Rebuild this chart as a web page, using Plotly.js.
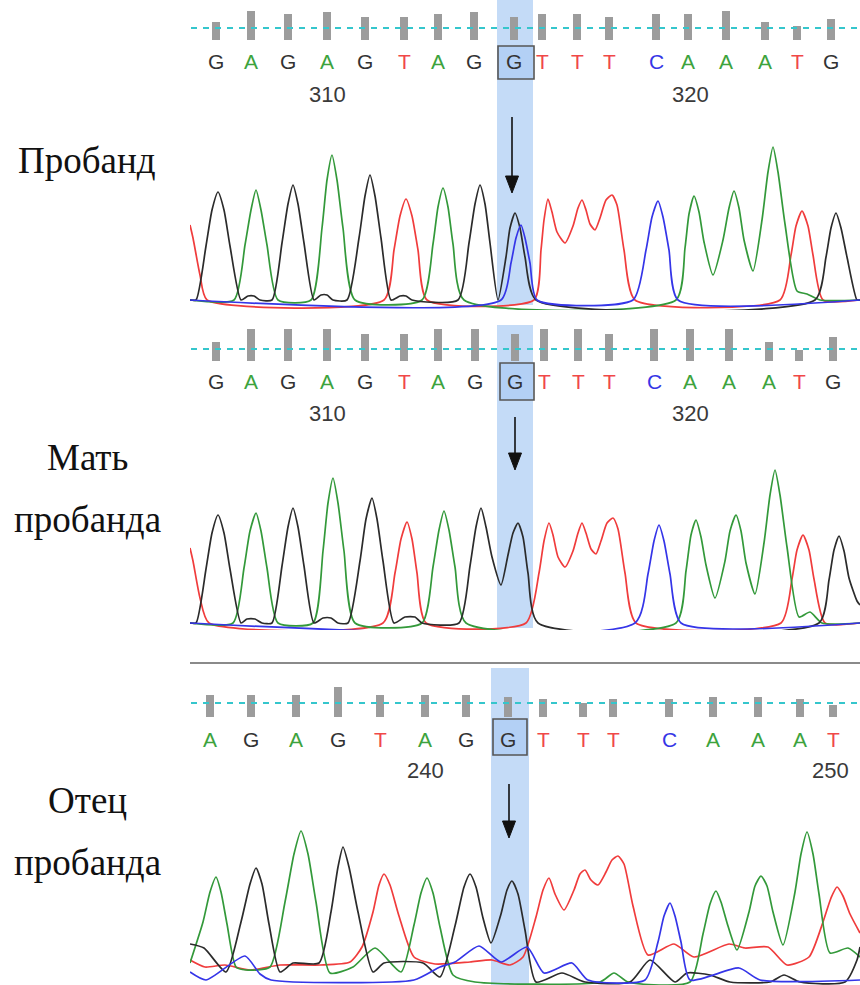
<!DOCTYPE html>
<html><head><meta charset="utf-8">
<script src="https://cdn.plot.ly/plotly-3.0.1.min.js"></script>
<style>html,body{margin:0;padding:0;background:#fff}#chart{width:860px;height:985px}</style>
</head><body><div id="chart"></div>
<script>
// ---------- DATA: trace vertices [scan index, signal amplitude] ----------
// Panel 1 – Пробанд
const p1_T = [[0,75],[3,62],[10,25],[17,0],[194,0],[204,50],[210,84],[216,101],[222,84],[228,50],[237,0],[344,0],[351,50],[354,80],[358,101],[362,88],[367,68],[375,57],[383,74],[388,92],[392,100],[396,90],[400,76],[405,70],[410,82],[416,100],[422,105],[427,95],[434,50],[445,0],[590,0],[601,45],[606,74],[612,89],[618,74],[623,45],[633,0],[670,0]];
const p1_A = [[0,0],[44,0],[55,55],[61,90],[66,110],[71,90],[77,55],[88,0],[121,0],[132,72],[137,120],[142,145],[147,120],[153,72],[165,0],[232,0],[243,56],[248,93],[253,112],[258,93],[263,56],[274,0],[486,0],[495,52],[499,86],[504,104],[509,88],[514,58],[523,25],[533,60],[539,92],[544,109],[549,92],[554,60],[563,29],[572,80],[578,128],[583,153],[588,128],[595,76],[607,9],[617,6],[630,0],[670,0]];
const p1_G = [[0,0],[6,0],[16,54],[22,90],[28,108],[34,90],[40,54],[51,0],[58,4],[64,4],[70,0],[82,0],[92,57],[98,96],[103,115],[108,96],[114,57],[124,0],[131,5],[137,5],[143,0],[157,0],[169,62],[175,104],[180,125],[185,104],[191,62],[201,0],[210,4],[216,4],[222,0],[268,0],[279,57],[285,96],[290,115],[295,96],[300,57],[308,0],[316,43],[320,72],[325,87],[330,72],[335,43],[346,0],[625,0],[636,43],[641,72],[646,87],[651,72],[657,43],[667,0],[670,0]];
const p1_C = [[0,0],[311,0],[321,37],[326,62],[331,75],[335,62],[340,37],[347,0],[443,0],[456,50],[462,83],[468,99],[473,83],[479,50],[488,0],[670,0]];
// Panel 2 – Мать пробанда
const p2_T = [[0,75],[3,62],[10,25],[19,0],[193,0],[205,50],[211,84],[217,101],[222,84],[227,50],[236,0],[336,0],[349,50],[354,82],[359,100],[363,88],[368,66],[375,56],[383,72],[388,90],[392,100],[396,90],[401,74],[406,69],[411,82],[417,100],[423,105],[428,94],[435,50],[446,0],[591,0],[602,44],[607,73],[613,88],[619,73],[624,44],[635,0],[670,0]];
const p2_A = [[0,0],[43,0],[54,55],[60,92],[66,110],[71,92],[77,55],[88,0],[123,0],[133,72],[138,120],[143,145],[148,120],[154,72],[165,0],[232,0],[243,56],[249,93],[254,112],[259,93],[265,56],[276,0],[486,0],[496,52],[501,88],[506,103],[511,86],[516,58],[525,25],[535,62],[540,92],[546,108],[551,92],[556,60],[565,29],[574,80],[580,128],[585,153],[590,128],[597,76],[609,6],[620,11],[632,0],[670,0]];
const p2_G = [[0,0],[6,0],[16,54],[22,90],[28,108],[34,90],[40,54],[51,0],[57,4],[65,4],[72,0],[82,0],[92,57],[98,96],[103,115],[108,96],[114,57],[124,0],[133,5],[141,5],[148,0],[158,0],[170,62],[176,104],[182,125],[187,104],[193,62],[204,0],[215,6],[225,6],[232,0],[269,0],[280,57],[286,96],[291,115],[296,96],[302,66],[311,38],[318,68],[323,90],[328,100],[333,86],[338,50],[348,0],[629,0],[639,43],[644,73],[649,87],[654,72],[659,45],[667,22],[670,18]];
const p2_C = [[0,0],[445,0],[458,49],[464,82],[469,98],[474,82],[480,49],[491,0],[670,0]];
// Panel 3 – Отец пробанда
const p3_T = [[0,22],[15,15],[35,17],[60,12],[90,17],[130,17],[160,20],[172,35],[183,70],[189,97],[194,108],[200,97],[209,66],[224,25],[245,18],[280,20],[302,22],[320,17],[333,25],[346,65],[353,92],[359,104],[365,88],[374,72],[384,92],[390,108],[395,112],[401,102],[408,97],[416,110],[422,122],[428,126],[434,118],[443,76],[458,27],[484,38],[504,25],[539,38],[555,34],[578,35],[597,17],[619,25],[633,60],[641,84],[647,95],[653,86],[660,68],[670,49]];
const p3_A = [[0,19],[13,60],[20,90],[26,105],[31,90],[37,58],[46,15],[56,12],[80,15],[95,80],[104,128],[111,151],[118,128],[126,80],[140,9],[163,15],[185,34],[211,10],[224,57],[231,89],[237,104],[243,89],[250,55],[263,7],[285,0],[410,0],[424,9],[438,0],[500,0],[513,48],[520,78],[526,91],[531,80],[538,56],[547,32],[559,70],[565,96],[571,106],[577,96],[583,70],[593,37],[605,90],[611,128],[617,150],[623,128],[629,88],[640,29],[658,34],[670,25]];
const p3_G = [[0,38],[14,34],[36,10],[51,60],[60,98],[66,114],[72,98],[79,58],[90,10],[103,19],[129,19],[141,70],[148,115],[153,135],[159,115],[168,70],[183,10],[194,19],[233,19],[250,5],[265,56],[274,95],[280,108],[286,95],[293,64],[301,39],[311,68],[317,92],[322,101],[328,88],[335,52],[346,0],[372,9],[395,0],[440,0],[460,22],[485,0],[497,9],[520,7],[540,0],[580,0],[594,7],[610,0],[655,0],[667,22],[670,35]];
const p3_C = [[0,10],[16,2],[55,26],[70,8],[81,2],[224,2],[250,15],[265,20],[289,36],[311,20],[337,35],[354,9],[382,19],[398,2],[455,2],[468,40],[474,66],[480,79],[485,66],[491,40],[500,2],[549,14],[570,2],[670,2]];

// Base calls, positions (scan) and quality bars
const seq12 = ['G','A','G','A','G','T','A','G','G','T','T','T','C','A','A','A','T','G'];
const pos1  = [26, 61, 98, 137, 175, 214, 248, 284, 324, 352, 387, 419, 466, 498, 536, 575, 607, 641];
const qual1 = [18, 29, 26, 28, 23, 23, 26, 28, 23, 26, 26, 23, 26, 26, 29, 18, 14, 21];
const pos2  = [26, 61, 98, 137, 175, 214, 248, 285, 325, 354, 388, 419, 464, 500, 539, 579, 609, 643];
const qual2 = [19, 32, 32, 32, 27, 27, 32, 32, 27, 32, 32, 27, 32, 32, 32, 19, 11, 24];
const seq3  = ['A','G','A','G','T','A','G','G','T','T','T','C','A','A','A','T'];
const pos3  = [20, 61, 106, 148, 190, 235, 276, 318, 353, 393, 423, 479, 523, 568, 610, 643];
const qual3 = [22, 22, 22, 30, 22, 22, 22, 20, 18, 14, 18, 18, 20, 20, 18, 12];
const tickPos12 = [137, 500];
const tickText12 = ['310', '320'];
const tickPos3 = [235, 640];
const tickText3 = ['240', '250'];
const panelLabels = ['Пробанд', 'Мать', 'пробанда', 'Отец', 'пробанда'];

// ---------- STYLE / LAYOUT ----------
const H = 985, W = 860;
const fy = p => 1 - p / H;
const COL = {T: '#f03c3c', A: '#33993a', G: '#2b2b2b', C: '#3535e8'};
const LCOL = {T: '#f04848', A: '#3da33d', G: '#333333', C: '#3636e6'};
const traces = [];
function chan(pts, c, ya) {
  traces.push({type: 'scatter', mode: 'lines', x: pts.map(p => p[0]), y: pts.map(p => p[1]), xaxis: 'x', yaxis: ya,
    line: {color: COL[c], width: 1.7, shape: 'spline', smoothing: 0.6}, hoverinfo: 'skip'});
}
chan(p1_T, 'T', 'y'); chan(p1_A, 'A', 'y'); chan(p1_G, 'G', 'y'); chan(p1_C, 'C', 'y');
chan(p2_T, 'T', 'y2'); chan(p2_A, 'A', 'y2'); chan(p2_G, 'G', 'y2'); chan(p2_C, 'C', 'y2');
chan(p3_T, 'T', 'y3'); chan(p3_A, 'A', 'y3'); chan(p3_G, 'G', 'y3'); chan(p3_C, 'C', 'y3');

function qbars(xs, ys, ya) {
  traces.push({type: 'bar', x: xs, y: ys, xaxis: 'x', yaxis: ya, width: 8,
    marker: {color: '#9c9c9c', line: {width: 0}}, hoverinfo: 'skip'});
}
qbars(pos1, qual1, 'y4'); qbars(pos2, qual2, 'y5'); qbars(pos3, qual3, 'y6');

const shapes = [];
const annotations = [];
function band(x0, x1, top, bot) {
  shapes.push({type: 'rect', xref: 'x', yref: 'paper', x0: x0, x1: x1, y0: fy(bot), y1: fy(top),
    fillcolor: '#c4dbf7', line: {width: 0}, layer: 'below'});
}
band(307, 343, 0, 305); band(307, 343, 325, 628); band(301, 339, 668, 985);
function dash(ya, yv) {
  shapes.push({type: 'line', xref: 'x', yref: ya, x0: 1, x1: 670, y0: yv, y1: yv,
    line: {color: '#35c6cc', width: 2.2, dash: '6px,6px'}, layer: 'above'});
}
dash('y4', 12); dash('y5', 12); dash('y6', 14);
function box(x0, x1, top, bot) {
  shapes.push({type: 'rect', xref: 'x', yref: 'paper', x0: x0, x1: x1, y0: fy(bot), y1: fy(top),
    fillcolor: 'rgba(150,190,240,0.35)', line: {color: '#555', width: 1.6}, layer: 'above'});
}
box(308, 344, 46, 79); box(310, 344, 363, 400); box(303, 337, 719, 755);
function arrow(x, top, tip) {
  shapes.push({type: 'line', xref: 'x', yref: 'paper', x0: x, x1: x, y0: fy(top), y1: fy(tip - 12),
    line: {color: '#111', width: 1.6}});
  shapes.push({type: 'path', xref: 'x', yref: 'paper',
    path: `M ${x - 6.5},${fy(tip - 17)} L ${x + 6.5},${fy(tip - 17)} L ${x},${fy(tip)} Z`,
    fillcolor: '#111', line: {color: '#111', width: 1}});
}
arrow(322, 117, 193); arrow(325, 417, 470); arrow(319, 784, 838);
shapes.push({type: 'line', xref: 'x', yref: 'paper', x0: -1, x1: 672, y0: fy(663), y1: fy(663),
  line: {color: '#8a8a8a', width: 2}});

function letters(seq, pos, ypx) {
  seq.forEach((b, i) => annotations.push({xref: 'x', yref: 'paper', x: pos[i], y: fy(ypx),
    text: b, showarrow: false, xanchor: 'center', yanchor: 'middle',
    font: {family: 'Liberation Sans, Arial, sans-serif', size: 21, color: LCOL[b]}}));
}
letters(seq12, pos1, 62); letters(seq12, pos2, 382); letters(seq3, pos3, 739);
function ticks(pos, txt, ypx) {
  pos.forEach((p, i) => annotations.push({xref: 'x', yref: 'paper', x: p, y: fy(ypx),
    text: txt[i], showarrow: false, xanchor: 'center', yanchor: 'middle',
    font: {family: 'Liberation Sans, Arial, sans-serif', size: 22, color: '#3a3a3a'}}));
}
ticks(tickPos12, tickText12, 95); ticks(tickPos12, tickText12, 413); ticks(tickPos3, tickText3, 770);
const labelY = [160, 457, 519, 800, 862];
panelLabels.forEach((t, i) => annotations.push({xref: 'paper', yref: 'paper', x: 87 / W, y: fy(labelY[i]),
  text: t, showarrow: false, xanchor: 'center', yanchor: 'middle',
  font: {family: 'Liberation Serif, Times New Roman, serif', size: 37, color: '#111'}}));

const xd = [190 / W, 1];
const ax = (top, bot, r0, r1) => ({domain: [fy(bot), fy(top)], range: [r0, r1], visible: false, fixedrange: true, anchor: 'x'});
const layout = {
  width: W, height: H, margin: {l: 0, r: 0, t: 0, b: 0}, showlegend: false,
  paper_bgcolor: '#fff', plot_bgcolor: 'rgba(0,0,0,0)', bargap: 0,
  xaxis: {domain: xd, range: [0, 670], visible: false, fixedrange: true},
  yaxis: ax(110, 310, -10, 190),
  yaxis2: ax(430, 630, -7, 193),
  yaxis3: ax(785, 985, -3, 197),
  yaxis4: ax(5, 40, 0, 35),
  yaxis5: ax(326, 361, 0, 35),
  yaxis6: ax(682, 717, 0, 35),
  shapes: shapes, annotations: annotations
};
Plotly.newPlot('chart', traces, layout, {displayModeBar: false, staticPlot: true});
</script></body></html>
